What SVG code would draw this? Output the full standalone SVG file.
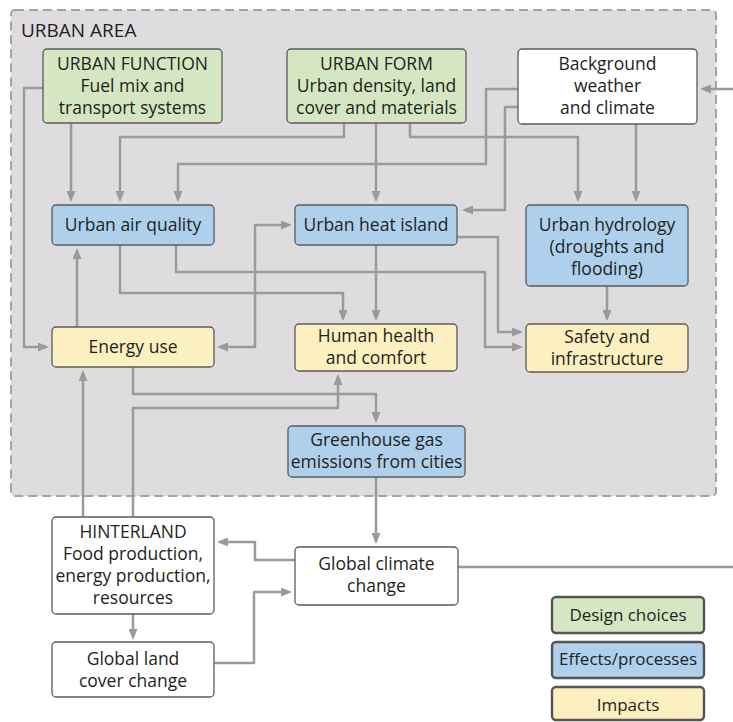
<svg xmlns="http://www.w3.org/2000/svg" width="733" height="722" viewBox="0 0 733 722">
  <style>
    .box { stroke: #5b5b5b; stroke-width: 1.3; }
    .design { fill: #d4e7c2; }
    .effect { fill: #aed0ec; }
    .impact { fill: #fdf0c0; }
    .plain { fill: #ffffff; }
    .key { stroke: #555555; stroke-width: 2.4; }
    text { font-family: "Open Sans", "Liberation Sans", sans-serif; font-size: 17.5px; fill: #231f20; text-anchor: middle; }
    .title { font-size: 19px; text-anchor: start; }
    .keytxt { font-size: 17px; }
    .link { fill: none; stroke: #9a9a9a; stroke-width: 2.5; stroke-linejoin: round; }
    .arrow { marker-end: url(#head); }
  </style>
  <defs>
    <marker id="head" viewBox="0 0 11 9" refX="8" refY="4.5" markerWidth="11" markerHeight="9" markerUnits="userSpaceOnUse" orient="auto-start-reverse">
      <path d="M0,0 L11,4.5 L0,9 z" fill="#9a9a9a"/>
    </marker>
  </defs>

  <rect width="733" height="722" fill="#ffffff"/>

  <!-- urban area frame -->
  <g id="urban-area">
    <rect x="11" y="10" width="705" height="486" rx="4" fill="#dfdcdf" stroke="#a3a3a3" stroke-width="2" stroke-dasharray="9 5"/>
    <text class="title" x="21" y="37">URBAN AREA</text>
  </g>

  <!-- connectors -->
  <g id="connectors">
    <path class="link arrow" d="M43,88 H24 V347 H46"/>
    <path class="link arrow" d="M71,123 V199"/>
    <path class="link arrow" d="M344,123 V137 H120 V199"/>
    <path class="link arrow" d="M518,89 H486 V164 H178 V199"/>
    <path class="link arrow" d="M518,107 H505 V210 H465"/>
    <path class="link arrow" d="M376,123 V199"/>
    <path class="link arrow" d="M410,123 V137 H578 V199"/>
    <path class="link arrow" d="M636,124 V199"/>
    <path class="link arrow" d="M120,245 V293 H343 V318"/>
    <path class="link arrow" d="M176,245 V272 H485 V347 H520"/>
    <path class="link arrow" d="M376,245 V318"/>
    <path class="link arrow" d="M457,237 H498 V332 H520"/>
    <path class="link arrow" marker-start="url(#head)" d="M220,347 H255 V225 H289"/>
    <path class="link arrow" d="M77,327 V251"/>
    <path class="link arrow" d="M607,286 V318"/>
    <path class="link arrow" d="M133,367 V394 H376 V420"/>
    <path class="link arrow" d="M133,517 V408 H338 V377"/>
    <path class="link arrow" d="M83,517 V373"/>
    <path class="link arrow" d="M376,477 V541"/>
    <path class="link arrow" d="M295,560 H255 V542 H220"/>
    <path class="link arrow" d="M214,663 H254 V592 H289"/>
    <path class="link arrow" d="M133,614 V637"/>
    <path class="link" d="M458,567 H733"/>
    <path class="link arrow" d="M733,89 H703"/>
  </g>

  <!-- nodes -->
  <g id="urban-function">
    <rect class="box design" x="43" y="49" width="179" height="74" rx="4"/>
    <text x="132.5" y="70">URBAN FUNCTION</text>
    <text x="132.5" y="92">Fuel mix and</text>
    <text x="132.5" y="114">transport systems</text>
  </g>
  <g id="urban-form">
    <rect class="box design" x="287" y="49" width="179" height="74" rx="4"/>
    <text x="376.5" y="70">URBAN FORM</text>
    <text x="376.5" y="92">Urban density, land</text>
    <text x="376.5" y="114">cover and materials</text>
  </g>
  <g id="background-weather">
    <rect class="box plain" x="518" y="49" width="179" height="75" rx="4"/>
    <text x="607.5" y="70">Background</text>
    <text x="607.5" y="92">weather</text>
    <text x="607.5" y="114">and climate</text>
  </g>
  <g id="urban-air-quality">
    <rect class="box effect" x="52" y="205" width="162" height="40" rx="4"/>
    <text x="133" y="231">Urban air quality</text>
  </g>
  <g id="urban-heat-island">
    <rect class="box effect" x="295" y="205" width="162" height="40" rx="4"/>
    <text x="376" y="231">Urban heat island</text>
  </g>
  <g id="urban-hydrology">
    <rect class="box effect" x="526" y="205" width="162" height="81" rx="4"/>
    <text x="607" y="231">Urban hydrology</text>
    <text x="607" y="253">(droughts and</text>
    <text x="607" y="275">flooding)</text>
  </g>
  <g id="energy-use">
    <rect class="box impact" x="52" y="327" width="162" height="40" rx="4"/>
    <text x="133" y="353">Energy use</text>
  </g>
  <g id="human-health">
    <rect class="box impact" x="295" y="324" width="162" height="47" rx="4"/>
    <text x="376" y="342">Human health</text>
    <text x="376" y="364">and comfort</text>
  </g>
  <g id="safety">
    <rect class="box impact" x="526" y="324" width="162" height="48" rx="4"/>
    <text x="607" y="343">Safety and</text>
    <text x="607" y="365">infrastructure</text>
  </g>
  <g id="greenhouse-gas">
    <rect class="box effect" x="288" y="426" width="177" height="51" rx="4"/>
    <text x="376.5" y="446">Greenhouse gas</text>
    <text x="376.5" y="468">emissions from cities</text>
  </g>
  <g id="hinterland">
    <rect class="box plain" x="52" y="517" width="162" height="97" rx="4"/>
    <text x="133" y="538">HINTERLAND</text>
    <text x="133" y="560">Food production,</text>
    <text x="133" y="582">energy production,</text>
    <text x="133" y="604">resources</text>
  </g>
  <g id="global-land-cover">
    <rect class="box plain" x="52" y="642" width="162" height="55" rx="4"/>
    <text x="133" y="665">Global land</text>
    <text x="133" y="687">cover change</text>
  </g>
  <g id="global-climate">
    <rect class="box plain" x="295" y="547" width="163" height="58" rx="4"/>
    <text x="376.5" y="570">Global climate</text>
    <text x="376.5" y="592">change</text>
  </g>

  <!-- legend -->
  <g id="legend-design">
    <rect class="key design" x="552" y="597" width="152" height="36" rx="4"/>
    <text class="keytxt" x="628" y="621">Design choices</text>
  </g>
  <g id="legend-effects">
    <rect class="key effect" x="552" y="642" width="152" height="36" rx="4"/>
    <text class="keytxt" x="628" y="665">Effects/processes</text>
  </g>
  <g id="legend-impacts">
    <rect class="key impact" x="552" y="687" width="152" height="33" rx="4"/>
    <text class="keytxt" x="628" y="711">Impacts</text>
  </g>
</svg>
